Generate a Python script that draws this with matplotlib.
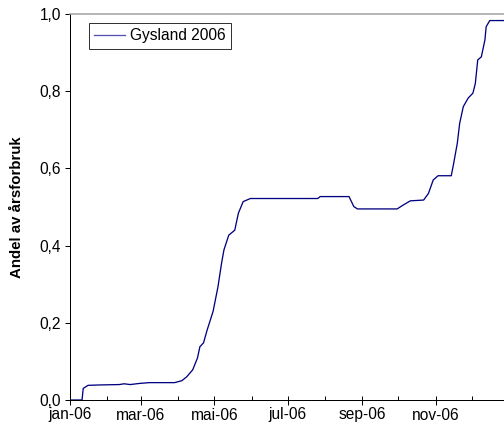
import numpy as np
import pandas as pd
import matplotlib
matplotlib.use('Agg')
import matplotlib.pyplot as plt
import matplotlib.dates as mdates
from matplotlib.ticker import FixedLocator, FuncFormatter

# Data (cumulative share of annual consumption)
dates = pd.to_datetime([
    '2006-01-01', '2006-01-11', '2006-01-12', '2006-01-16', '2006-01-26',
    '2006-02-11', '2006-02-15', '2006-02-20', '2006-02-28', '2006-03-08',
    '2006-03-29', '2006-04-04', '2006-04-08', '2006-04-13', '2006-04-17',
    '2006-04-19', '2006-04-22', '2006-04-25', '2006-04-30', '2006-05-04',
    '2006-05-07', '2006-05-09', '2006-05-13', '2006-05-18', '2006-05-21',
    '2006-05-25', '2006-05-31', '2006-07-26', '2006-07-28', '2006-08-21',
    '2006-08-25', '2006-08-28', '2006-09-30', '2006-10-05', '2006-10-11',
    '2006-10-22', '2006-10-26', '2006-10-30', '2006-11-03', '2006-11-14',
    '2006-11-16', '2006-11-19', '2006-11-21', '2006-11-24', '2006-11-28',
    '2006-12-02', '2006-12-04', '2006-12-06', '2006-12-09', '2006-12-12',
    '2006-12-13', '2006-12-16', '2006-12-31',
])
andel = [
    0.000, 0.000, 0.030, 0.038, 0.039,
    0.040, 0.042, 0.040, 0.043, 0.045,
    0.045, 0.050, 0.060, 0.078, 0.109,
    0.138, 0.148, 0.181, 0.230, 0.293,
    0.354, 0.389, 0.427, 0.440, 0.484,
    0.514, 0.522, 0.522, 0.527, 0.527,
    0.501, 0.495, 0.495, 0.505, 0.516,
    0.518, 0.535, 0.570, 0.581, 0.581,
    0.613, 0.665, 0.717, 0.760, 0.782,
    0.795, 0.820, 0.881, 0.889, 0.933,
    0.967, 0.983, 0.983,
]
series_name = 'Gysland 2006'
month_names = ['jan', 'feb', 'mar', 'apr', 'mai', 'jun',
               'jul', 'aug', 'sep', 'okt', 'nov', 'des']

W, H = 504, 432
fig = plt.figure(figsize=(W / 72, H / 72), dpi=72)
plt.rcParams['font.family'] = ['Liberation Sans', 'DejaVu Sans']

# plot area in pixels: left 70, top 14, bottom 400, right just past the figure
ax_w = 509 - 70
ax = fig.add_axes([70 / W, (H - 400) / H, ax_w / W, 386 / H])
ax.plot(dates, andel, color='#000080', lw=1.3, label=series_name)

ax.set_xlim(pd.Timestamp('2006-01-01'), pd.Timestamp('2007-01-01'))
ax.set_ylim(0, 1.0)


def month_label(v, pos):
    d = mdates.num2date(v)
    if d.year != 2006:
        return ''
    return f"{month_names[d.month - 1]}-{d.year % 100:02d}"


months = pd.date_range('2006-01-01', '2007-01-01', freq='MS')
ax.xaxis.set_major_locator(FixedLocator(mdates.date2num(months[::2])))
ax.xaxis.set_minor_locator(FixedLocator(mdates.date2num(months[1::2])))
ax.xaxis.set_major_formatter(FuncFormatter(month_label))
ax.set_yticks(np.arange(0, 1.01, 0.2))
ax.yaxis.set_major_formatter(FuncFormatter(lambda v, p: f"{v:.1f}".replace('.', ',')))

ax.tick_params(axis='x', which='major', direction='inout', length=9, width=1,
               labelsize=15.5, pad=3)
ax.tick_params(axis='x', which='minor', direction='in', length=4, width=1)
ax.tick_params(axis='y', direction='out', length=5, width=1, labelsize=15.5, pad=4)

for side in ['left', 'bottom']:
    ax.spines[side].set_color('black')
    ax.spines[side].set_linewidth(1)
ax.spines['top'].set_color('#a0a0a0')
ax.spines['top'].set_linewidth(1.5)
ax.spines['right'].set_visible(False)

ax.set_ylabel('Andel av årsforbruk', fontsize=15, fontweight='bold')
ax.yaxis.set_label_coords((24 - 70) / ax_w, 0.5)

leg = ax.legend(loc='upper left', bbox_to_anchor=(89 / W, 1 - 23 / H),
                bbox_transform=fig.transFigure, fontsize=15.5, frameon=True,
                fancybox=False, borderpad=0.35, handlelength=2.0,
                handletextpad=0.3, borderaxespad=0)
leg.get_frame().set_edgecolor('black')
leg.get_frame().set_linewidth(1)
leg.get_lines()[0].set_color('#5050b0')

fig.savefig('out.png', dpi=72)
